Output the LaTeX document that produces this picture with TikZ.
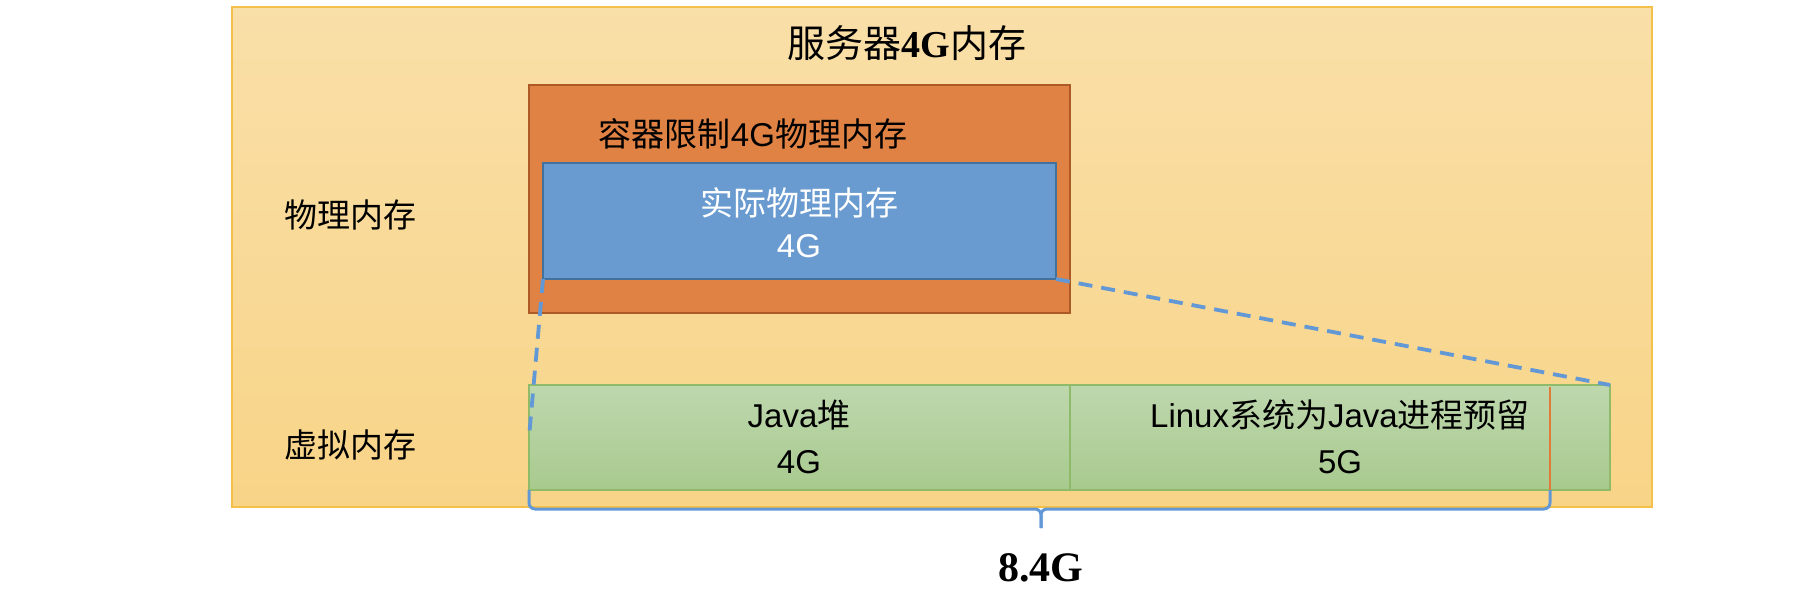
\documentclass[tikz,border=0pt]{standalone}
\usepackage{fontspec}
\setmainfont{Liberation Sans}
\newfontfamily\cjk{Noto Sans CJK SC}
\newfontfamily\tms{Liberation Serif}
\usetikzlibrary{fit}
\definecolor{outertop}{HTML}{F9DFA8}
\definecolor{outerbot}{HTML}{F8D487}
\definecolor{outerline}{HTML}{F5C04A}
\definecolor{orangefill}{HTML}{DF8244}
\definecolor{orangeline}{HTML}{AE5A26}
\definecolor{bluefill}{HTML}{6A9BD0}
\definecolor{blueline}{HTML}{41719C}
\definecolor{greentop}{HTML}{BED7AE}
\definecolor{greenbot}{HTML}{A8CA8E}
\definecolor{greenline}{HTML}{8DBB6A}
\definecolor{linkblue}{HTML}{6298D6}
\definecolor{markorange}{HTML}{E07B39}
\begin{document}
\begin{tikzpicture}[x=0.5pt,y=-0.5pt,
  box/.style={inner sep=0pt, outer sep=0pt},
  lbl/.style={inner sep=0pt, align=center, font=\fontsize{16.5}{21}\selectfont},
  lblg/.style={inner sep=0pt, align=center, font=\fontsize{16.5}{23}\selectfont},
  dashln/.style={draw=linkblue, line width=1.9pt, dash pattern=on 7pt off 4.5pt},
  bracestyle/.style={draw=linkblue, line width=1.5pt, rounded corners=3pt},
  orangeln/.style={draw=markorange, line width=1.4pt}]
\useasboundingbox (0,0) rectangle (1810,590);
\node[fit={(232,7) (1652,507)}, box, draw=outerline, line width=0.6pt, top color=outertop, bottom color=outerbot] (server) {};
\node[fit={(529,85) (1070,313)}, box, draw=orangeline, line width=0.8pt, fill=orangefill] (container) {};
\node[fit={(543,163) (1056,279)}, box, draw=blueline, line width=1pt, fill=bluefill] (actual) {};
\node[fit={(529,385) (1070,490)}, box, draw=greenline, line width=0.6pt, top color=greentop, bottom color=greenbot] (heap) {};
\node[fit={(1070,385) (1610,490)}, box, draw=greenline, line width=0.6pt, top color=greentop, bottom color=greenbot] (reserve) {};

\node[inner sep=0pt, font=\fontsize{19}{22}\selectfont] (title) at (907,43) {{\cjk 服务器}{\tms\bfseries 4G}{\cjk 内存}};
\node[lbl] (phys) at (350,215) {\cjk 物理内存};
\node[lbl] (virt) at (350,445) {\cjk 虚拟内存};
\node[lbl] (climit) at (753,134) {{\cjk 容器限制}4G{\cjk 物理内存}};
\node[lbl, text=white] (actlbl) at (799,223) {{\cjk 实际物理内存}\\4G};
\node[lblg] (heaplbl) at (799,437) {Java{\cjk 堆}\\4G};
\node[lblg] (reslbl) at (1340,437) {Linux{\cjk 系统为}Java{\cjk 进程预留}\\5G};
\node[inner sep=0pt, font=\tms\bfseries\fontsize{21}{24}\selectfont] (total) at (1041,568) {8.4G};

\coordinate (olTop) at (1550,387);
\coordinate (olBot) at (1550,490);
\coordinate (bmid) at (1041,509);
\coordinate (tip) at (1041,528);
\draw[orangeln] (olTop) -- (olBot);
\draw[bracestyle] (heap.south west) |- (bmid) -- (tip);
\draw[bracestyle] (olBot) |- (bmid) -- (tip);
\draw[dashln] (actual.south west) -- (heap.west);
\draw[dashln] (actual.south east) -- (reserve.north east);
\end{tikzpicture}
\end{document}
